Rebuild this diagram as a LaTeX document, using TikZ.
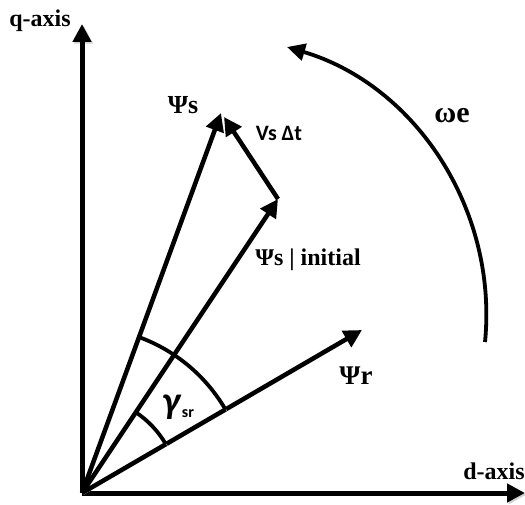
\documentclass[tikz,border=0pt]{standalone}
\usepackage{fontspec}
\setmainfont{Liberation Serif}
\newfontfamily\calfont{Carlito}
\usetikzlibrary{arrows.meta,calc}
\begin{document}
\begin{tikzpicture}[x=1pt,y=1pt,
  shadowed/.style={preaction={draw=black!18, transform canvas={shift={(1.6pt,-1.6pt)}}}},
  axisline/.style={line width=5pt, -{Triangle[length=18pt,width=18pt]}, shadowed},
  vecline/.style={line width=4.5pt, -{Triangle[length=18pt,width=18pt]}, shadowed},
  anglearc/.style={line width=3.8pt, shadowed},
  serlab/.style={font=\fontsize{24}{26}\selectfont\bfseries, inner sep=0pt},
  callab/.style={font=\calfont\fontsize{22}{24}\selectfont\bfseries, inner sep=0pt}]
\path[use as bounding box] (0,0) rectangle (525,504);
% coordinates
\coordinate (O) at (82,11);
\coordinate (Q) at (82,480);
\coordinate (D) at (525,11);
\coordinate (S) at (221,391);
\coordinate (SI) at (278,305);
\coordinate (VS) at (224,387);
\coordinate (R) at (362,174);
\coordinate (WA) at (485,162);
\coordinate (WB) at (287,457);
% axes
\draw[axisline] (O) -- (Q);
\draw[axisline] (O) -- (D);
% vectors
\draw[vecline] (O) -- (S);
\draw[vecline] (O) -- (SI);
\draw[vecline] (O) -- (R);
\draw[vecline] (SI) -- (VS);
% angle arcs
\draw[anglearc] ($(O)+(69.9:166)$) arc[start angle=69.9, end angle=30.2, radius=166];
\draw[anglearc] ($(O)+(56.2:97)$) arc[start angle=56.2, end angle=30.2, radius=97];
% rotation arc
\draw[line width=3.8pt, -{Triangle[length=18pt,width=17pt]}, shadowed]
  (WA) .. controls (498,295) and (415,419) .. (WB);
% labels
\node[serlab] (qlab) at (40,483) {q-axis};
\node[serlab] (dlab) at (494,33) {d-axis};
\node[serlab, font=\fontsize{26}{28}\selectfont\bfseries] (slab) at (183,399) {Ψs};
\node[callab] (vlab) at (279,371) {Vs Δt};
\node[serlab] (silab) at (308,244) {Ψs | initial};
\node[serlab, font=\fontsize{27}{29}\selectfont\bfseries] (rlab) at (356,128) {Ψr};
\node[serlab, font=\fontsize{30}{32}\selectfont\bfseries] (wlab) at (452,388) {ωe};
\node[callab, font=\calfont\fontsize{38}{40}\selectfont\bfseries\itshape] (glab) at (171,97) {γ};
\node[callab, font=\calfont\fontsize{16}{18}\selectfont\bfseries] (srlab) at (188,90) {sr};
\end{tikzpicture}
\end{document}
